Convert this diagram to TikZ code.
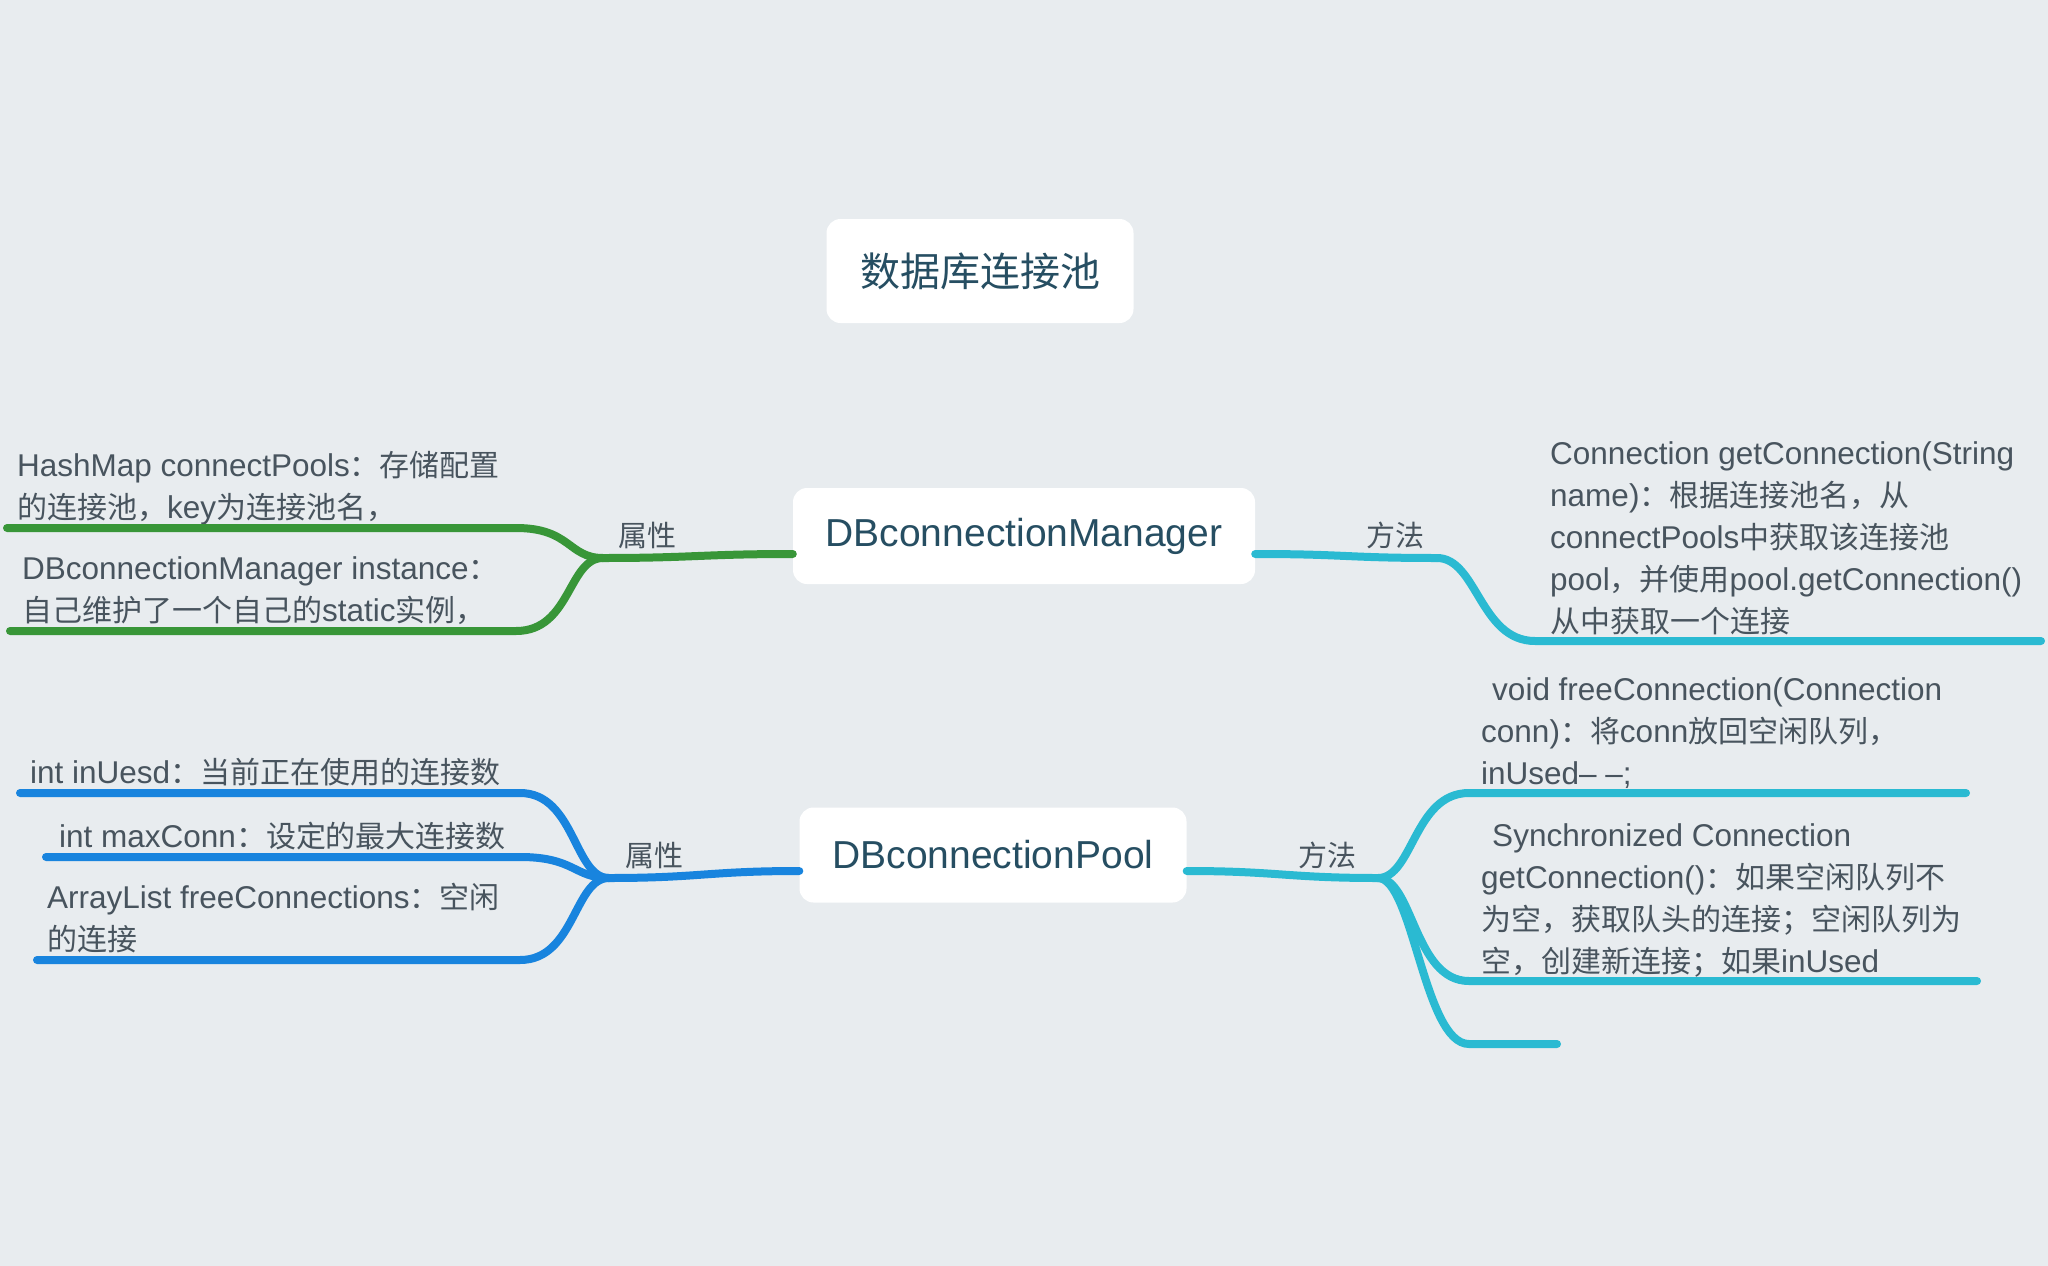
\documentclass[tikz,border=0pt]{standalone}
\usepackage{fontspec}
\setmainfont{Liberation Sans}
\newfontfamily\cjk[Scale=0.952]{Noto Sans CJK SC}
\newfontfamily\cjkbig{Noto Sans CJK SC}
\newcommand{\zh}[1]{{\cjk #1}}
\definecolor{BgGrey}{RGB}{232,236,239}
\definecolor{TopicText}{RGB}{38,78,98}
\definecolor{LeafText}{RGB}{72,84,94}
\definecolor{AttrGreen}{RGB}{56,150,56}
\definecolor{AttrBlue}{RGB}{24,132,222}
\definecolor{MethCyan}{RGB}{42,186,210}

\begin{document}
\begin{tikzpicture}[x = 1pt, y = -1pt]
\tikzstyle{TopicStyle}=[fill = white, rounded corners = 14pt, inner sep = 0pt, text = TopicText, font = \fontsize{39pt}{44pt}\selectfont]
\tikzstyle{LeafStyle}=[anchor = south west, inner sep = 0pt, align = left, text = LeafText, font = \fontsize{31.5pt}{42pt}\selectfont]
\tikzstyle{TagStyle}=[inner sep = 0pt, text = LeafText, font = \fontsize{29pt}{34pt}\selectfont\cjkbig]
\tikzstyle{BranchStyle}=[line width = 8pt, line cap = round]
\path[use as bounding box, fill = BgGrey] (0,0) rectangle (2048,1266);

\node[TopicStyle, minimum width = 307pt, minimum height = 104pt, font = \fontsize{40pt}{44pt}\selectfont\cjkbig] (root) at (980,271) {数据库连接池};
\node[TopicStyle, minimum width = 462pt, minimum height = 96pt] (mgr) at (1024,536) {DBconnectionManager};
\node[TopicStyle, minimum width = 387pt, minimum height = 95pt] (pool) at (993,855) {DBconnectionPool};

\node[TagStyle] (mgrAttr) at (647,535) {属性};
\node[TagStyle] (mgrMeth) at (1395,535) {方法};
\node[TagStyle] (poolAttr) at (654,855) {属性};
\node[TagStyle] (poolMeth) at (1327,855) {方法};

\coordinate (mgrL) at (603,558);
\coordinate (mgrR) at (1437,558);
\coordinate (poolL) at (609,878);
\coordinate (poolR) at (1378,878);

\coordinate (mgrA1) at (516,528);
\coordinate (mgrA1e) at (7,528);
\coordinate (mgrA2) at (516,631);
\coordinate (mgrA2e) at (10,631);
\coordinate (mgrM1) at (1535,641);
\coordinate (mgrM1e) at (2041,641);
\coordinate (poolA1) at (520,793);
\coordinate (poolA1e) at (20,793);
\coordinate (poolA2) at (520,857);
\coordinate (poolA2e) at (46,857);
\coordinate (poolA3) at (520,960);
\coordinate (poolA3e) at (37,960);
\coordinate (poolM1) at (1469,793);
\coordinate (poolM1e) at (1966,793);
\coordinate (poolM2) at (1469,981);
\coordinate (poolM2e) at (1977,981);
\coordinate (poolM3) at (1469,1044);
\coordinate (poolM3e) at (1557,1044);

\node[LeafStyle] (mgrT1) at (17,531) {HashMap connectPools\zh{：存储配置}\\\zh{的连接池，}key\zh{为连接池名，}\strut};
\node[LeafStyle] (mgrT2) at (22,634) {DBconnectionManager instance\zh{：}\\\zh{自己维护了一个自己的}static\zh{实例，}\strut};
\node[LeafStyle] (mgrT3) at (1550,645) {Connection getConnection(String\\name)\zh{：根据连接池名，从}\\connectPools\zh{中获取该连接池}\\pool\zh{，并使用}pool.getConnection()\\\zh{从中获取一个连接}\strut};
\node[LeafStyle] (poolT1) at (30,796) {int inUesd\zh{：当前正在使用的连接数}\strut};
\node[LeafStyle] (poolT2) at (59,860) {int maxConn\zh{：设定的最大连接数}\strut};
\node[LeafStyle] (poolT3) at (47,963) {ArrayList freeConnections\zh{：空闲}\\\zh{的连接}\strut};
\node[LeafStyle] (poolT4) at (1481,797) {\hspace*{.35em}void freeConnection(Connection\\conn)\zh{：将}conn\zh{放回空闲队列，}\\inUsed– –;\strut};
\node[LeafStyle] (poolT5) at (1481,985) {\hspace*{.35em}Synchronized Connection\\getConnection()\zh{：如果空闲队列不}\\\zh{为空，获取队头的连接；空闲队列为}\\\zh{空，创建新连接；如果}inUsed\strut};

\draw[BranchStyle, AttrGreen] ([yshift = -18pt]mgr.west) .. controls +(-90,0) and +(90,0) .. (mgrL);
\draw[BranchStyle, AttrGreen] (mgrL) .. controls +(-35,0) and +(55,0) .. (mgrA1) -- (mgrA1e);
\draw[BranchStyle, AttrGreen] (mgrL) .. controls +(-35,0) and +(55,0) .. (mgrA2) -- (mgrA2e);
\draw[BranchStyle, MethCyan] ([yshift = -18pt]mgr.east) .. controls +(90,0) and +(-90,0) .. (mgrR);
\draw[BranchStyle, MethCyan] (mgrR) .. controls +(40,0) and +(-55,0) .. (mgrM1) -- (mgrM1e);

\draw[BranchStyle, AttrBlue] ([yshift = -16pt]pool.west) .. controls +(-90,0) and +(90,0) .. (poolL);
\draw[BranchStyle, AttrBlue] (poolL) .. controls +(-35,0) and +(55,0) .. (poolA1) -- (poolA1e);
\draw[BranchStyle, AttrBlue] (poolL) .. controls +(-35,0) and +(55,0) .. (poolA2) -- (poolA2e);
\draw[BranchStyle, AttrBlue] (poolL) .. controls +(-35,0) and +(55,0) .. (poolA3) -- (poolA3e);
\draw[BranchStyle, MethCyan] ([yshift = -16pt]pool.east) .. controls +(90,0) and +(-90,0) .. (poolR);
\draw[BranchStyle, MethCyan] (poolR) .. controls +(35,0) and +(-55,0) .. (poolM1) -- (poolM1e);
\draw[BranchStyle, MethCyan] (poolR) .. controls +(35,0) and +(-55,0) .. (poolM2) -- (poolM2e);
\draw[BranchStyle, MethCyan] (poolR) .. controls +(35,0) and +(-45,0) .. (poolM3) -- (poolM3e);
\end{tikzpicture}
\end{document}
